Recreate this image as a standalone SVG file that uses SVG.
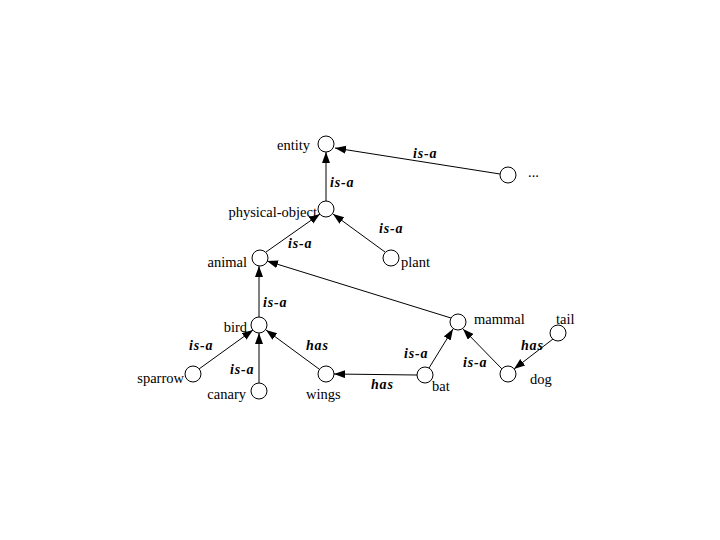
<svg xmlns="http://www.w3.org/2000/svg" width="720" height="540" viewBox="0 0 720 540">
<style>
.n{fill:#fff;stroke:#000;stroke-width:1}
.t{font-family:"Liberation Serif","DejaVu Serif",serif;font-size:14.5px;fill:#000}
.l{font-family:"Liberation Serif","DejaVu Serif",serif;font-size:14px;font-weight:bold;font-style:italic;letter-spacing:0.8px;fill:#000}
.e{stroke:#000;stroke-width:1;fill:none;marker-end:url(#ah)}
</style>
<defs>
<marker id="ah" markerUnits="userSpaceOnUse" markerWidth="12" markerHeight="10" refX="11" refY="4" orient="auto">
<path d="M0,0 L11,4 L0,8 Z" fill="#000"/>
</marker>
</defs>
<rect width="720" height="540" fill="#fff"/>
<g id="edges">
<line class="e" x1="500" y1="174" x2="335" y2="148"/>
<line class="e" x1="326" y1="201" x2="326" y2="152"/>
<line class="e" x1="266" y1="252" x2="320" y2="214"/>
<line class="e" x1="385" y1="252" x2="333" y2="214"/>
<line class="e" x1="259" y1="317" x2="259" y2="266"/>
<line class="e" x1="451" y1="318" x2="267" y2="261"/>
<line class="e" x1="199" y1="369" x2="253" y2="330"/>
<line class="e" x1="259" y1="383" x2="259" y2="333"/>
<line class="e" x1="319" y1="369" x2="266" y2="330"/>
<line class="e" x1="417" y1="375" x2="334" y2="374"/>
<line class="e" x1="429" y1="368" x2="453" y2="329"/>
<line class="e" x1="502" y1="369" x2="463" y2="329"/>
<line class="e" x1="553" y1="339" x2="514" y2="369"/>
<text class="l" x="413" y="158">is-a</text>
<text class="l" x="330" y="187">is-a</text>
<text class="l" x="288" y="248">is-a</text>
<text class="l" x="379" y="233">is-a</text>
<text class="l" x="263" y="307">is-a</text>
<text class="l" x="189" y="350">is-a</text>
<text class="l" x="230" y="374">is-a</text>
<text class="l" x="306" y="350">has</text>
<text class="l" x="371" y="389">has</text>
<text class="l" x="404" y="358">is-a</text>
<text class="l" x="463" y="367">is-a</text>
<text class="l" x="521" y="350">has</text>
</g>
<g id="entity"><circle class="n" cx="326" cy="144" r="8"/><text class="t" x="310" y="150" text-anchor="end">entity</text></g>
<g id="other"><circle class="n" cx="508" cy="175" r="8"/><text class="t" x="528" y="177">...</text></g>
<g id="physical-object"><circle class="n" cx="326" cy="209" r="8"/><text class="t" x="317" y="217" text-anchor="end">physical-object</text></g>
<g id="animal"><circle class="n" cx="260" cy="258" r="8"/><text class="t" x="247" y="267" text-anchor="end">animal</text></g>
<g id="plant"><circle class="n" cx="391" cy="258" r="8"/><text class="t" x="401" y="267">plant</text></g>
<g id="bird"><circle class="n" cx="259" cy="325" r="8"/><text class="t" x="247" y="332" text-anchor="end">bird</text></g>
<g id="mammal"><circle class="n" cx="458" cy="322" r="8"/><text class="t" x="474" y="324">mammal</text></g>
<g id="tail"><circle class="n" cx="558" cy="333" r="8"/><text class="t" x="556" y="324">tail</text></g>
<g id="sparrow"><circle class="n" cx="193" cy="374" r="8"/><text class="t" x="184" y="383" text-anchor="end">sparrow</text></g>
<g id="canary"><circle class="n" cx="259" cy="391" r="8"/><text class="t" x="246" y="399" text-anchor="end">canary</text></g>
<g id="wings"><circle class="n" cx="326" cy="374" r="8"/><text class="t" x="306" y="399">wings</text></g>
<g id="bat"><circle class="n" cx="425" cy="375" r="8"/><text class="t" x="432" y="391">bat</text></g>
<g id="dog"><circle class="n" cx="508" cy="374" r="8"/><text class="t" x="530" y="384">dog</text></g>
</svg>
